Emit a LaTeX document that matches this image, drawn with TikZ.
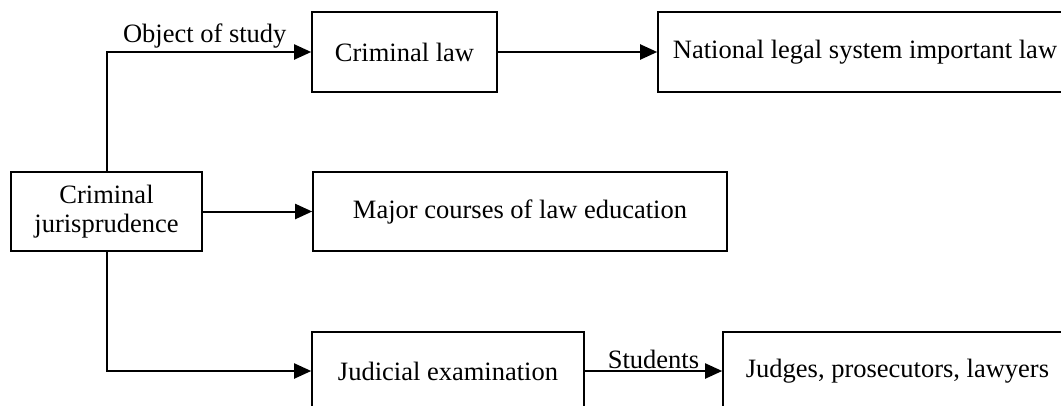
\documentclass[tikz,border=0pt]{standalone}
\usepackage{fontspec}
\setmainfont{Liberation Serif}
\usetikzlibrary{arrows.meta}
\begin{document}
\begin{tikzpicture}[x=1pt,y=-1pt,
  box/.style={draw, line width=1.6pt, inner sep=0pt, align=center, font=\fontsize{26.5}{29}\selectfont},
  conn/.style={line width=2pt, -{Triangle[length=17pt,width=15pt]}},
  lbl/.style={font=\fontsize{26.5}{29}\selectfont, inner sep=1pt}]
\useasboundingbox (0,0) rectangle (1061,405);
\clip (0,0) rectangle (1061,405);
\fill[white] (0,0) rectangle (1061,405);
\node[box, minimum width=191pt, minimum height=79pt] (cj) at (106.5,211.5) {Criminal\\jurisprudence};
\node[box, minimum width=185pt, minimum height=80pt] (cl) at (404.5,52) {Criminal law};
\node[box, minimum width=414pt, minimum height=80pt] (nl) at (865,52) {National legal system important law};
\node[box, minimum width=414pt, minimum height=79pt] (mc) at (520,211.5) {Major courses of law education};
\node[box, minimum width=272pt, minimum height=78pt] (je) at (448,371) {Judicial examination};
\node[box, minimum width=349pt, minimum height=78pt] (jp) at (897.5,371) {Judges, prosecutors, lawyers};
\draw[conn] (cj.north) |- node[lbl, pos=0.74, above, inner sep=3pt] {Object of study} (cl.west);
\draw[conn] (cj.east) -- (mc.west);
\draw[conn] (cj.south) |- (je.west);
\draw[conn] (cl.east) -- (nl.west);
\draw[conn] (je.east) -- node[lbl, above] {Students} (jp.west);
\end{tikzpicture}
\end{document}
